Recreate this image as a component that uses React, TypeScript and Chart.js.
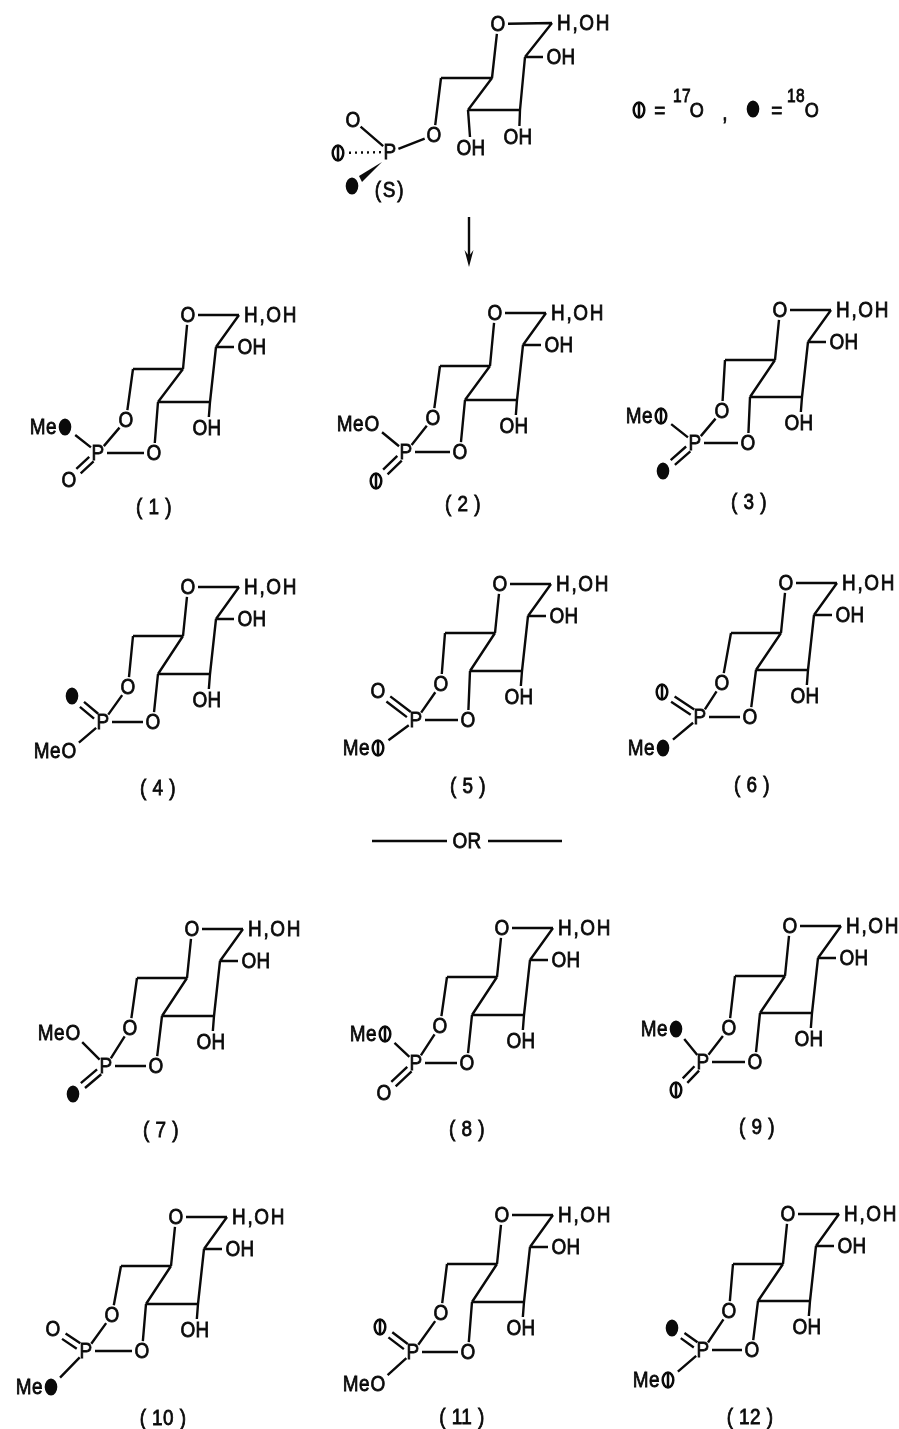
import React, { useEffect, useRef } from "react";
import { Chart, registerables } from "chart.js";

Chart.register(...registerables);

type P = [number, number];
type Sub = "O" | "O17" | "O18";

// ring atoms, relative to the ring oxygen of each compound
const ringAnomeric: P = [51, 0];
const ringC2: P = [28, 32];
const ringC3: P = [22, 87];
const ringC4: P = [-30, 87];
const ringC5x = -5;
const ringC6x = -55;
const labelOH3: P = [19, 113];
const ringFoldDepth = [54, 53, 50, 49, 49, 50, 49, 49, 50, 49, 49, 50];

const compoundNames = ["( 1 )", "( 2 )", "( 3 )", "( 4 )", "( 5 )", "( 6 )", "( 7 )", "( 8 )", "( 9 )", "( 10 )", "( 11 )", "( 12 )"];
const ringOxygens: P[] = [[188, 315], [495, 313], [780, 310], [188, 587], [500, 584], [786, 583], [192, 929], [502, 928], [790, 926], [176, 1217], [502, 1215], [788, 1214]];
const phosphorus: P[] = [[98, 453], [406, 452], [695, 443], [103, 722], [416, 720], [700, 717], [106, 1066], [416, 1063], [703, 1062], [86, 1351], [413, 1352], [703, 1350]];
const cyclicO1: P[] = [[126, 420], [433, 418], [722, 411], [128, 687], [441, 684], [722, 683], [130, 1028], [440, 1026], [729, 1028], [112, 1315], [441, 1313], [729, 1311]];
const cyclicO2x = [154, 460, 748, 153, 468, 750, 156, 467, 755, 142, 468, 752];
const upperAtoms: P[] = [[65, 427], [372, 424], [661, 416], [72, 696], [378, 691], [662, 692], [73, 1033], [385, 1034], [676, 1029], [53, 1329], [380, 1327], [672, 1328]];
const lowerAtoms: P[] = [[69, 480], [376, 481], [663, 471], [69, 751], [378, 748], [663, 748], [73, 1094], [384, 1093], [676, 1090], [51, 1387], [378, 1384], [668, 1380]];
const upperKinds: Sub[] = ["O18", "O", "O17", "O18", "O", "O17", "O", "O17", "O18", "O", "O17", "O18"];
const lowerKinds: Sub[] = ["O", "O17", "O18", "O", "O17", "O18", "O18", "O", "O17", "O18", "O", "O17"];
const upperHasMe = [true, true, true, false, false, false, true, true, true, false, false, false];
const nameSpots: P[] = [[154, 507], [463, 504], [749, 502], [158, 788], [468, 786], [752, 785], [161, 1130], [467, 1129], [757, 1127], [163, 1418], [462, 1417], [750, 1417]];

// starting compound
const startO: P = [498, 24];
const startAtoms: P[] = [[552, 23], [525, 57], [520, 110], [468, 110], [492, 78], [441, 78], [434, 135], [390, 152]];
const startOxoO: P = [353, 120];
const start17: P = [338, 153];
const start18: P = [352, 186];
const wedgePoly: P[] = [[382, 162], [359, 176], [362, 182]];
const arrowShaft: P[] = [[469, 217], [469, 256]];
const arrowHead: P[] = [[464.5, 250], [469, 256], [473.5, 250], [469, 267]];
const orLines: P[][] = [[[372, 841], [447, 841]], [[488, 841], [562, 841]]];

// legend
const legend17: P = [639, 110];
const legend18: P = [753, 109];

const add = (a: P, b: P): P => [a[0] + b[0], a[1] + b[1]];
const trim = (a: P, b: P, ta: number, tb: number): [P, P] => {
  const dx = b[0] - a[0], dy = b[1] - a[1], l = Math.hypot(dx, dy) || 1;
  return [[a[0] + (dx * ta) / l, a[1] + (dy * ta) / l], [b[0] - (dx * tb) / l, b[1] - (dy * tb) / l]];
};

const segs: P[][] = [];
const bond = (a: P, b: P, ta = 0, tb = 0) => segs.push(trim(a, b, ta, tb));
const dbl = (a: P, b: P, ta: number, tb: number) => {
  const [s, e] = trim(a, b, ta, tb);
  const dx = e[0] - s[0], dy = e[1] - s[1], l = Math.hypot(dx, dy), ox = (-dy / l) * 3.2, oy = (dx / l) * 3.2;
  segs.push([[s[0] + ox, s[1] + oy], [e[0] + ox, e[1] + oy]]);
  segs.push([[s[0] - ox, s[1] - oy], [e[0] - ox, e[1] - oy]]);
};

type Txt = { t: string; p: P; align?: CanvasTextAlign; size?: number; sp?: string };
const texts: Txt[] = [];
const pts17: P[] = [];
const pts18: P[] = [];

const placeSub = (kind: Sub, p: P, withMe: boolean) => {
  if (kind === "O") texts.push({ t: "O", p });
  if (kind === "O17") pts17.push(p);
  if (kind === "O18") pts18.push(p);
  if (withMe) texts.push({ t: "Me", p: [p[0] - 8, p[1]], align: "right" });
};

const sugar = (o: P, a: P, c2: P, c3: P, c4: P, c5: P, c6: P, oh3: P) => {
  texts.push({ t: "O", p: o });
  texts.push({ t: "H,OH", p: [a[0] + 5, a[1]], align: "left", sp: "2px" });
  texts.push({ t: "OH", p: [c2[0] + 36, c2[1]] });
  texts.push({ t: "OH", p: oh3 });
  bond(o, a, 10, 0);
  bond(a, c2);
  bond(c2, [c2[0] + 18, c2[1]]);
  bond(c2, c3);
  bond(c3, c4);
  bond(c3, [oh3[0] + 1, oh3[1]], 0, 11);
  bond(c4, c5);
  bond(c5, o, 0, 10);
  bond(c5, c6);
};

ringOxygens.forEach((o, i) => {
  const at = (r: P) => add(o, r);
  const P0 = phosphorus[i];
  const o1 = cyclicO1[i];
  const o2: P = [cyclicO2x[i], P0[1]];
  const c4 = at(ringC4);
  const c5 = at([ringC5x, ringFoldDepth[i]]);
  const c6 = at([ringC6x, ringFoldDepth[i]]);
  sugar(o, at(ringAnomeric), at(ringC2), at(ringC3), c4, c5, c6, at(labelOH3));
  texts.push({ t: "O", p: o1 }, { t: "O", p: o2 }, { t: "P", p: P0 });
  texts.push({ t: compoundNames[i], p: nameSpots[i] });
  bond(c6, o1, 0, 10);
  bond(c4, o2, 0, 10);
  bond(P0, o1, 9, 10);
  bond(P0, o2, 9, 10);
  placeSub(upperKinds[i], upperAtoms[i], upperHasMe[i]);
  placeSub(lowerKinds[i], lowerAtoms[i], !upperHasMe[i]);
  if (upperHasMe[i]) {
    bond(P0, upperAtoms[i], 9, 13);
    dbl(P0, lowerAtoms[i], 9, 13);
  } else {
    dbl(P0, upperAtoms[i], 9, 13);
    bond(P0, lowerAtoms[i], 9, 13);
  }
});

const [sA, sC2, sC3, sC4, sC5, sC6, sO6, sP] = startAtoms;
sugar(startO, sA, sC2, sC3, sC4, sC5, sC6, [518, 137]);
texts.push({ t: "OH", p: [471, 148] }, { t: "O", p: sO6 }, { t: "P", p: sP }, { t: "O", p: startOxoO }, { t: "(S)", p: [390, 190], sp: "2px" });
bond(sC4, [470, 137]);
bond(sC6, sO6, 0, 10);
bond(sO6, sP, 10, 9);
bond(sP, startOxoO, 9, 10);
pts17.push(start17, legend17);
pts18.push(start18, legend18);
bond(arrowShaft[0], arrowShaft[1]);
orLines.forEach((l) => bond(l[0], l[1]));
texts.push({ t: "OR", p: [467, 841] });
texts.push(
  { t: "=", p: [660, 111] }, { t: "17", p: [682, 96], size: 18 }, { t: "O", p: [697, 110], size: 21 }, { t: ",", p: [725, 113] },
  { t: "=", p: [777, 111] }, { t: "18", p: [796, 96], size: 18 }, { t: "O", p: [812, 110], size: 21 },
);

const bondData: { x: number; y: number }[] = [];
segs.forEach(([a, b]) => {
  bondData.push({ x: a[0], y: a[1] }, { x: b[0], y: b[1] }, { x: NaN, y: NaN });
});
const toXY = (list: P[]) => list.map(([x, y]) => ({ x, y }));

const makeMark = (isotope: 17 | 18) => {
  const c = document.createElement("canvas");
  c.width = 16;
  c.height = 20;
  const g = c.getContext("2d")!;
  g.fillStyle = "#0a0a0a";
  g.strokeStyle = "#0a0a0a";
  g.beginPath();
  g.ellipse(8, 10, isotope === 18 ? 6.3 : 5.3, isotope === 18 ? 8.6 : 7.4, 0, 0, Math.PI * 2);
  if (isotope === 18) g.fill();
  else {
    g.lineWidth = 2.5;
    g.stroke();
    g.beginPath();
    g.moveTo(8, 2);
    g.lineTo(8, 18);
    g.stroke();
  }
  return c;
};

const inkPlugin = {
  id: "ink",
  afterDatasetsDraw(chart: any) {
    const { ctx, scales } = chart;
    const X = (v: number) => scales.x.getPixelForValue(v);
    const Y = (v: number) => scales.y.getPixelForValue(v);
    ctx.save();
    ctx.fillStyle = "#0a0a0a";
    ctx.strokeStyle = "#0a0a0a";
    [wedgePoly, arrowHead].forEach((poly) => {
      ctx.beginPath();
      poly.forEach(([x, y], i) => (i ? ctx.lineTo(X(x), Y(y)) : ctx.moveTo(X(x), Y(y))));
      ctx.closePath();
      ctx.fill();
    });
    ctx.textBaseline = "middle";
    ctx.lineWidth = 0.8;
    texts.forEach((tx) => {
      ctx.save();
      ctx.font = `${tx.size ?? 22}px "Liberation Sans", Arial, sans-serif`;
      ctx.textAlign = tx.align ?? "center";
      (ctx as any).letterSpacing = tx.sp ?? "0.5px";
      ctx.translate(X(tx.p[0]), Y(tx.p[1]) + 1);
      ctx.scale(0.86, 1);
      ctx.fillText(tx.t, 0, 0);
      ctx.strokeText(tx.t, 0, 0);
      ctx.restore();
    });
    ctx.restore();
  },
};

export default function App() {
  const ref = useRef<HTMLCanvasElement>(null);
  useEffect(() => {
    const chart = new Chart(ref.current!, {
      type: "scatter",
      data: {
        datasets: [
          { data: bondData, showLine: true, spanGaps: false, borderColor: "#0a0a0a", borderWidth: 2.4, pointRadius: 0 },
          { data: toXY(trim(sP, start17, 9, 10)), showLine: true, borderColor: "#0a0a0a", borderWidth: 2.4, borderDash: [2, 4], pointRadius: 0 },
          { data: toXY(pts17), showLine: false, pointStyle: makeMark(17), pointRadius: 8 },
          { data: toXY(pts18), showLine: false, pointStyle: makeMark(18), pointRadius: 8 },
        ],
      } as any,
      options: {
        animation: false,
        responsive: false,
        devicePixelRatio: 1,
        layout: { padding: 0, autoPadding: false },
        scales: {
          x: { type: "linear", min: 0, max: 899, display: false },
          y: { type: "linear", min: 0, max: 1429, reverse: true, display: false },
        },
        plugins: { legend: { display: false }, tooltip: { enabled: false } },
      },
      plugins: [inkPlugin],
    } as any);
    return () => chart.destroy();
  }, []);
  return (
    <div style={{ position: "absolute", left: 0, top: 0, width: 899, height: 1429, background: "#fff" }}>
      <canvas ref={ref} width={899} height={1429} style={{ display: "block" }} />
    </div>
  );
}
